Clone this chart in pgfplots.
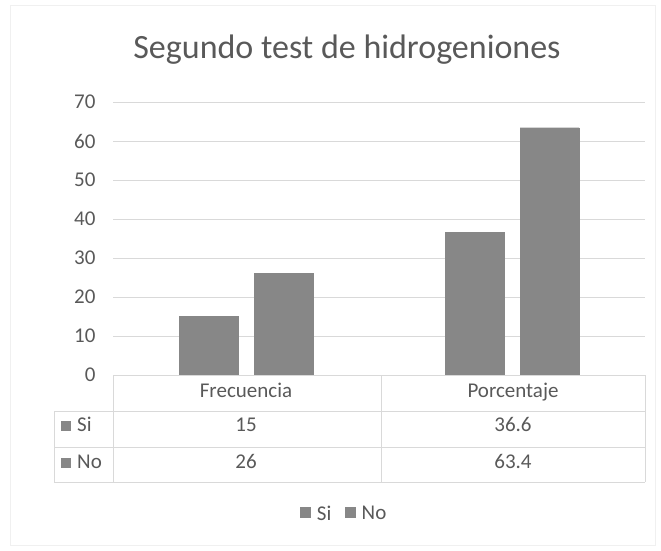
\documentclass[border=0pt]{standalone}
\usepackage{pgfplots}
\pgfplotsset{compat=1.18}
\usepackage{fontspec}
\setmainfont{Carlito}
\definecolor{bargray}{RGB}{135,135,135}
\definecolor{txt}{RGB}{89,89,89}
\definecolor{gridc}{RGB}{217,217,217}
\begin{document}
\begin{tikzpicture}[x=1pt,y=1pt]
\path[use as bounding box] (0,0) rectangle (661,550);
\draw[color=black!6] (10,5) rectangle (655,545);
\node[text=txt, font=\fontsize{34}{40}\selectfont, anchor=base, inner sep=0pt] at (347,491) {Segundo test de hidrogeniones};
\begin{axis}[
  at={(113pt,175pt)}, anchor=south west,
  scale only axis, width=532pt, height=273pt,
  xmin=-0.5, xmax=1.5, ymin=0, ymax=70,
  ytick={0,10,...,70}, xtick=\empty,
  ymajorgrids, grid style={gridc, line width=0.8pt},
  axis line style={draw=none}, major tick length=0pt,
  ticklabel style={font=\fontsize{21}{25}\selectfont, text=txt},
  /pgf/number format/assume math mode=true,
  yticklabel style={xshift=-14pt},
  ybar=16pt, bar width=59pt,
  legend columns=2,
  legend style={at={(0.435,-0.509)}, anchor=center, draw=none, fill=none,
    font=\fontsize{21}{25}\selectfont, text=txt,
    /tikz/every odd column/.append style={column sep=4pt},
    /tikz/every even column/.append style={column sep=12pt}},
  legend image code/.code={\draw[#1] (0pt,-3pt) rectangle (10pt,7pt);},
]
\addplot[fill=bargray, draw=bargray] coordinates {(0,15) (1,36.6)};
\addplot[fill=bargray, draw=bargray] coordinates {(0,26) (1,63.4)};
\legend{Si, No}
\end{axis}
% data table
\begin{scope}[draw=gridc, line width=0.8pt]
\draw (113,175) -- (645,175);
\draw (54,139) -- (645,139);
\draw (54,103) -- (645,103);
\draw (54,68) -- (645,68);
\draw (113,175) -- (113,68);
\draw (381,175) -- (381,68);
\draw (645,175) -- (645,68);
\draw (54,139) -- (54,68);
\end{scope}
\begin{scope}[every node/.style={text=txt, font=\fontsize{21}{25}\selectfont, inner sep=0pt}]
\node[anchor=base] at (246,153) {Frecuencia};
\node[anchor=base] at (513,153) {Porcentaje};
\node[anchor=base] at (246,119) {15};
\node[anchor=base] at (513,119) {36.6};
\node[anchor=base] at (246,82) {26};
\node[anchor=base] at (513,82) {63.4};
\fill[bargray] (61,119) rectangle (71,129);
\node[anchor=base west] at (77,119) {Si};
\fill[bargray] (61,82) rectangle (71,92);
\node[anchor=base west] at (77,82) {No};
\end{scope}
\end{tikzpicture}
\end{document}
